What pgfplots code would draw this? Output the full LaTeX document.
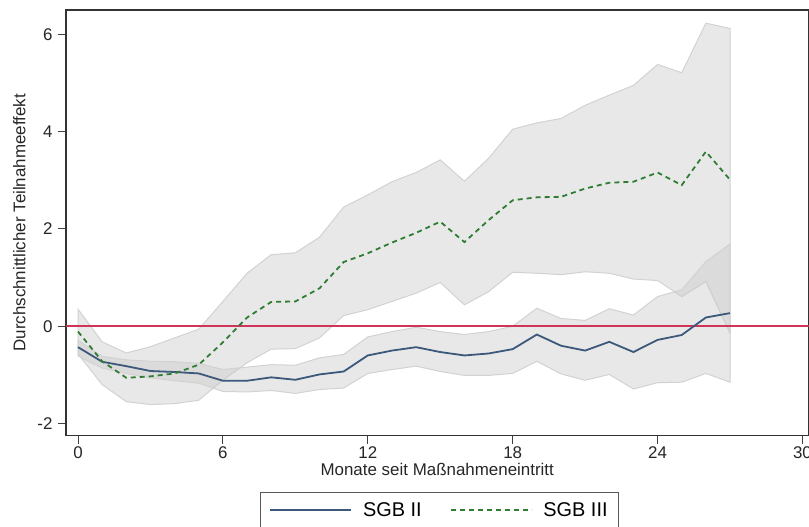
\documentclass[border=0pt]{standalone}
\usepackage{fontspec}
\setmainfont{Liberation Sans}
\usepackage{pgfplots}
\usepackage{pgfplotstable}
\pgfplotsset{compat=1.18}
\usepgfplotslibrary{fillbetween}

\definecolor{sgbzwei}{RGB}{60,88,122}
\definecolor{sgbdrei}{RGB}{46,125,50}
\definecolor{nulllinie}{RGB}{208,52,88}
\definecolor{bandfill}{RGB}{200,200,200}
\definecolor{bandedge}{RGB}{210,210,210}

% Monat, SGB II (Effekt, unten, oben), SGB III (Effekt, unten, oben)
\pgfplotstableread{
m  b      blo    bhi    g      glo    ghi
0  -0.43  -0.61  -0.29  -0.11  -0.57  0.35
1  -0.73  -0.86  -0.62  -0.72  -1.20  -0.32
2  -0.82  -0.97  -0.69  -1.06  -1.55  -0.55
3  -0.92  -1.06  -0.72  -1.03  -1.61  -0.42
4  -0.94  -1.12  -0.73  -0.97  -1.59  -0.24
5  -0.97  -1.17  -0.76  -0.79  -1.52  -0.06
6  -1.12  -1.34  -0.89  -0.33  -1.11  0.51
7  -1.12  -1.35  -0.84  0.18   -0.75  1.09
8  -1.05  -1.32  -0.79  0.50   -0.47  1.47
9  -1.10  -1.38  -0.80  0.51   -0.46  1.51
10 -0.99  -1.30  -0.65  0.78   -0.24  1.83
11 -0.93  -1.27  -0.58  1.32   0.22   2.45
12 -0.60  -0.97  -0.22  1.50   0.34   2.70
13 -0.50  -0.89  -0.11  1.72   0.51   2.97
14 -0.43  -0.82  -0.02  1.92   0.68   3.16
15 -0.53  -0.93  -0.11  2.15   0.90   3.42
16 -0.60  -1.01  -0.17  1.73   0.44   2.98
17 -0.56  -1.01  -0.11  2.18   0.71   3.45
18 -0.47  -0.97  0.00   2.59   1.11   4.05
19 -0.17  -0.72  0.37   2.65   1.09   4.18
20 -0.40  -0.98  0.16   2.66   1.06   4.27
21 -0.50  -1.11  0.12   2.83   1.12   4.54
22 -0.32  -0.99  0.36   2.95   1.09   4.75
23 -0.53  -1.29  0.23   2.97   0.97   4.95
24 -0.28  -1.16  0.61   3.16   0.94   5.38
25 -0.18  -1.15  0.75   2.90   0.61   5.21
26 0.18   -0.97  1.33   3.59   0.92   6.23
27 0.27   -1.15  1.69   3.01   -0.14  6.12
}\effekte

\begin{document}
\begin{tikzpicture}
\begin{axis}[
    scale only axis,
    width=743bp, height=426bp,
    xmin=-0.5, xmax=30.25,
    ymin=-2.25, ymax=6.5,
    xtick={0,6,...,30}, ytick={-2,0,...,6},
    xtick pos=bottom, ytick pos=left,
    tick align=outside,
    major tick length=8bp,
    tick style={black!75, line width=1bp},
    axis line style={black!80, line width=1.4bp},
    /pgf/number format/assume math mode=true,
    ticklabel style={font=\fontsize{17}{19}\selectfont, black!85},
    yticklabel style={xshift=-2bp},
    xticklabel style={yshift=1bp},
    xlabel={Monate seit Maßnahmeneintritt},
    ylabel={Durchschnittlicher Teilnahmeeffekt},
    label style={font=\fontsize{17}{19}\selectfont, black!85},
    xlabel style={yshift=2bp},
    ylabel style={yshift=5bp},
    legend columns=2,
    legend cell align=left,
    legend style={at={(0.503,-0.1315)}, anchor=north,
        draw=black!65, line width=1.1bp,
        font=\fontsize{20}{22}\selectfont,
        inner xsep=9bp, inner ysep=8bp,
        /tikz/every odd column/.append style={column sep=9bp},
        /tikz/every even column/.append style={column sep=26bp}},
    legend image code/.code={\draw[#1] (0bp,0bp) -- (81bp,0bp);},
]
\addplot[draw=none, name path=glo, forget plot] table[x=m, y=glo] {\effekte};
\addplot[draw=none, name path=ghi, forget plot] table[x=m, y=ghi] {\effekte};
\addplot[fill=bandfill, fill opacity=0.42, draw=bandedge, line width=1bp, forget plot]
    fill between[of=glo and ghi];
\addplot[draw=none, name path=blo, forget plot] table[x=m, y=blo] {\effekte};
\addplot[draw=none, name path=bhi, forget plot] table[x=m, y=bhi] {\effekte};
\addplot[fill=bandfill, fill opacity=0.42, draw=bandedge, line width=1bp, forget plot]
    fill between[of=blo and bhi];
\addplot[nulllinie, line width=2bp, forget plot] coordinates {(-0.5,0) (30.25,0)};
\addplot[sgbzwei, line width=1.8bp] table[x=m, y=b] {\effekte};
\addlegendentry{SGB II}
\addplot[sgbdrei, line width=1.8bp, dash pattern=on 5bp off 4bp] table[x=m, y=g] {\effekte};
\addlegendentry{SGB III}
\end{axis}
\pgfresetboundingbox
\useasboundingbox (-66bp,-91bp) rectangle (743.5bp,436bp);
\end{tikzpicture}
\end{document}
